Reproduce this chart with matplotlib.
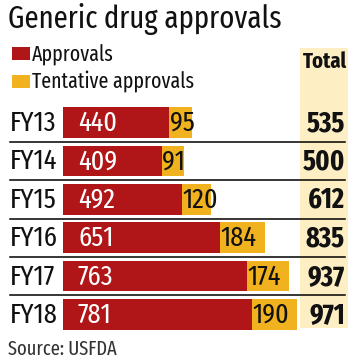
import matplotlib
matplotlib.use("Agg")
import matplotlib.pyplot as plt
import matplotlib.transforms as mtransforms
from matplotlib.patches import Rectangle

# ---- data ----
years = ["FY13", "FY14", "FY15", "FY16", "FY17", "FY18"]
approvals = [440, 409, 492, 651, 763, 781]
tentative = [95, 91, 120, 184, 174, 190]
totals = [535, 500, 612, 835, 937, 971]

RED = "#B01517"
YEL = "#F0B21E"
LIGHT = "#FDEEC4"
FONT = ["Fira Sans Extra Condensed", "Liberation Sans Narrow", "DejaVu Sans"]
TXT = "#111111"

W, H = 352, 364
fig = plt.figure(figsize=(W / 100, H / 100), dpi=100)
fig.patch.set_facecolor("white")

def fx(px):
    return px / W

def fy(py):
    return 1 - py / H

# axes covering the whole figure; x scale 0.2415 px per unit, bar origin at px 63
ppu = 0.2415
x0 = 63
row_pitch = 38.4
row0 = 122.5
ax = fig.add_axes([0, 0, 1, 1])
ax.set_xlim(-x0 / ppu, (W - x0) / ppu)
ax.set_ylim(5 + (H - (row0 + 5 * row_pitch)) / row_pitch, -row0 / row_pitch)
ax.axis("off")

# Total column background
ax.add_patch(Rectangle((fx(300), fy(328)), fx(348) - fx(300), fy(48) - fy(328),
                       transform=fig.transFigure, facecolor=LIGHT,
                       edgecolor="none", zorder=0.5, clip_on=False))

pos = list(range(len(years)))
ax.barh(pos, approvals, height=0.8, color=RED, zorder=2)
ax.barh(pos, tentative, left=approvals, height=0.8, color=YEL, zorder=2)

# separator lines
for i in range(len(years) - 1):
    ax.plot([-53 / ppu, (345 - x0) / ppu], [i + 0.5, i + 0.5], color="black",
            lw=1.1, zorder=3, clip_on=False)

down = mtransforms.ScaledTranslation(0, -0.085, fig.dpi_scale_trans)
red_lab = ax.transData + mtransforms.ScaledTranslation(0.15, -0.085, fig.dpi_scale_trans)
yel_lab = ax.transData + mtransforms.ScaledTranslation(0.005, -0.085, fig.dpi_scale_trans)
xlab_tr = mtransforms.blended_transform_factory(fig.transFigure, ax.transData) + down

FS = 20.5
for i, (y, a, t, tot) in enumerate(zip(years, approvals, tentative, totals)):
    ax.text(fx(10), i, y, transform=xlab_tr, ha="left", va="baseline",
            fontsize=FS, family=FONT, color=TXT)
    ax.text(0, i, str(a), transform=red_lab, ha="left", va="baseline",
            fontsize=FS, family=FONT, color="white", zorder=4)
    ax.text(a, i, str(t), transform=yel_lab, ha="left", va="baseline",
            fontsize=FS, family=FONT, color=TXT, zorder=4)
    ax.text(fx(345), i, str(tot), transform=xlab_tr, ha="right", va="baseline",
            fontsize=FS, family=FONT, fontweight="bold", color=TXT, zorder=4)

# title
fig.text(fx(8), fy(28), "Generic drug approvals", ha="left", va="baseline",
         fontsize=22.5, family=FONT, color=TXT)

# legend
fig.patches.append(Rectangle((fx(12), fy(60)), fx(18), 13 / H, transform=fig.transFigure,
                             facecolor=RED, edgecolor="none"))
fig.patches.append(Rectangle((fx(12), fy(88)), fx(18), 13 / H, transform=fig.transFigure,
                             facecolor=YEL, edgecolor="none"))
fig.text(fx(32), fy(62), "Approvals", ha="left", va="baseline", fontsize=15.5,
         family=FONT, color=TXT)
fig.text(fx(32), fy(88), "Tentative approvals", ha="left", va="baseline", fontsize=15.5,
         family=FONT, color=TXT)

fig.text(fx(325), fy(68), "Total", ha="center", va="baseline", fontsize=16,
         family=FONT, fontweight="bold", color=TXT, zorder=5)

fig.text(fx(8), fy(355), "Source: USFDA", ha="left", va="baseline", fontsize=14.5,
         family=FONT, color="#333333")

fig.savefig("out.png", dpi=100, facecolor="white")
